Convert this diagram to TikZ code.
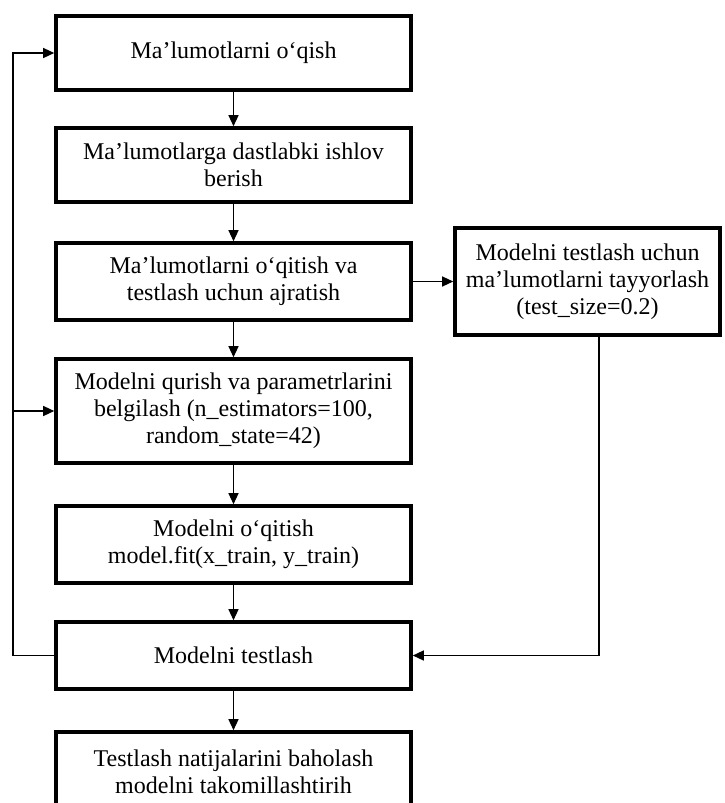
\documentclass[tikz,border=0pt]{standalone}
\usepackage{fontspec}
\setmainfont{Liberation Serif}
\usetikzlibrary{arrows.meta}

\begin{document}
\begin{tikzpicture}[x=1pt, y=-1pt,
    lnk/.style = {draw=black, line width=1.3pt,
                  -{Triangle[length=11pt,width=10pt]}},
every edge/.style = {lnk},
   blok/.style args = {#1/#2}{%
      rectangle, draw, line width=3.6pt, fill=white,
      minimum width=#1, minimum height=#2,
      align=center, inner sep=2pt,
      font=\fontsize{24}{27}\selectfont}
                    ]
\useasboundingbox (0,0) rectangle (725,803);
\node (A) [blok=355pt/74pt]   at (233.5, 53)   {Maʼlumotlarni oʻqish};
\node (B) [blok=355pt/74pt]   at (233.5,165)   {Maʼlumotlarga dastlabki ishlov\\berish};
\node (C) [blok=355pt/77pt]   at (233.5,281.5) {Maʼlumotlarni oʻqitish va\\testlash uchun ajratish};
\node (P) [blok=265pt/107pt]  at (587.5,281.5) {Modelni testlash uchun\\maʼlumotlarni tayyorlash\\(test\_size=0.2)};
\node (D) [blok=355pt/104pt]  at (233.5,411)   {Modelni qurish va parametrlarini\\belgilash (n\_estimators=100,\\random\_state=42)};
\node (E) [blok=355pt/77pt]   at (233.5,544.5) {Modelni oʻqitish\\model.fit(x\_train, y\_train)};
\node (F) [blok=355pt/67pt]   at (233.5,655.5) {Modelni testlash};
\node (G) [blok=355pt/80pt]   at (233.5,772)   {Testlash natijalarini baholash\\modelni takomillashtirih};
 %
\coordinate (lft) at ( 13,655.5);
\coordinate (rgt) at (599,655.5);
 %
\path   (A) edge (B)
        (B) edge (C)
        (C) edge (D)
        (D) edge (E)
        (E) edge (F)
        (F) edge (G)
        (C) edge (P);
\draw[lnk] (F.west) -- (lft) |- (A.west);
\draw[lnk] (lft |- D.west) -- (D.west);
\draw[lnk] (P.south -| rgt) -- (rgt) -- (F.east);
\end{tikzpicture}
\end{document}
